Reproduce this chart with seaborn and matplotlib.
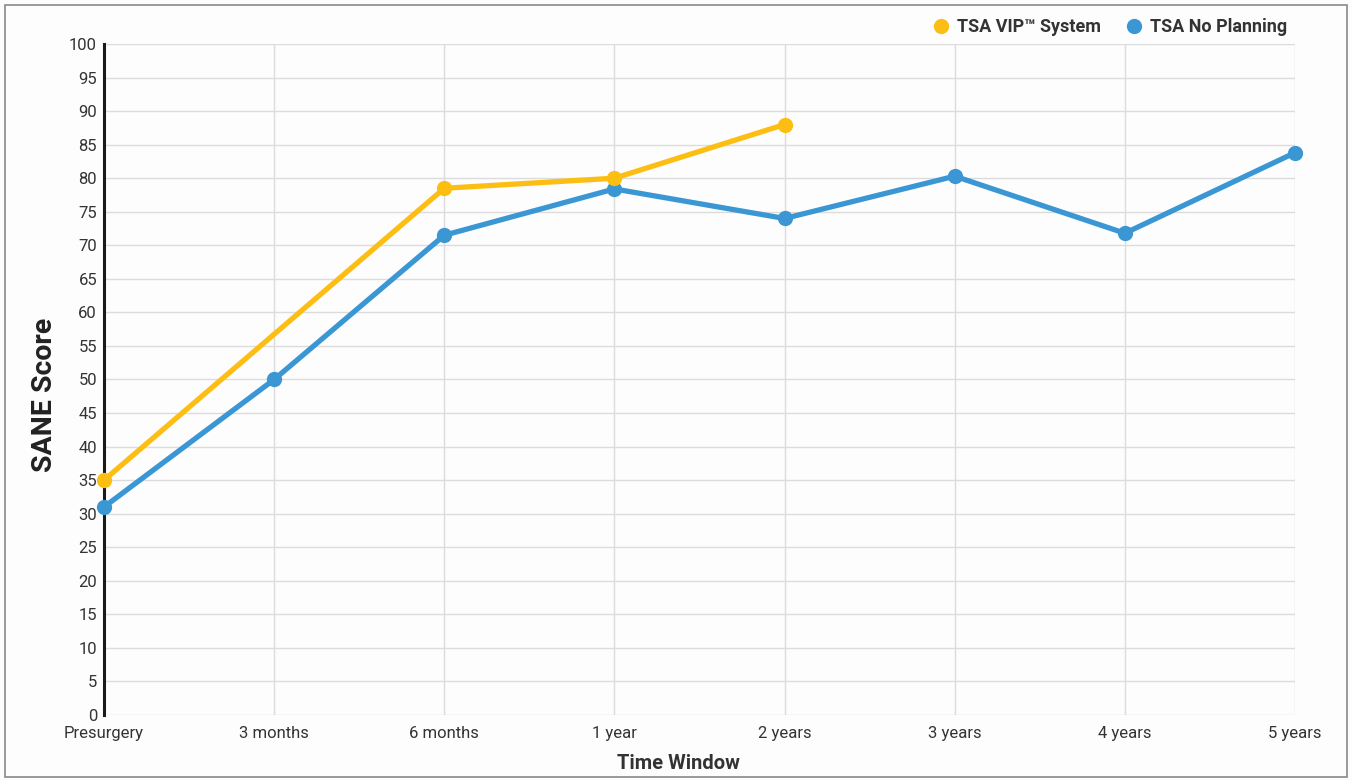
import matplotlib
matplotlib.use("Agg")
import matplotlib.pyplot as plt
import seaborn as sns
import pandas as pd
import numpy as np
from matplotlib.lines import Line2D
from matplotlib.patches import Rectangle

categories = ["Presurgery", "3 months", "6 months", "1 year", "2 years", "3 years", "4 years", "5 years"]
vip_values = [35, np.nan, 78.5, 80, 88, np.nan, np.nan, np.nan]
noplan_values = [31, 50, 71.5, 78.4, 74, 80.3, 71.8, 83.8]
series_names = ["TSA VIP\u2122 System", "TSA No Planning"]
colors = ["#FDBE14", "#3A97D4"]

rows = []
for name, vals in zip(series_names, [vip_values, noplan_values]):
    for i, v in enumerate(vals):
        rows.append({"x": i, "score": v, "series": name})
df = pd.DataFrame(rows).dropna()

sns.set_style("white")
plt.rcParams['font.family'] = ['Roboto', 'DejaVu Sans']

fig = plt.figure(figsize=(13.52, 7.8), dpi=100)
fig.patch.set_facecolor("#fdfdfd")
ax = fig.add_axes([104/1352, 1-715/780, (1295-104)/1352, (715-44)/780])
ax.set_facecolor("#fdfdfd")

sns.lineplot(data=df, x="x", y="score", hue="series", palette=dict(zip(series_names, colors)),
             hue_order=series_names[::-1], marker="o", markersize=11, markeredgewidth=0,
             linewidth=3.8, ax=ax, legend=False, sort=True, zorder=6, clip_on=False)

ax.set_xlim(0, len(categories) - 1)
ax.set_ylim(0, 100)
ax.set_yticks(np.arange(0, 101, 5))
ax.set_xticks(range(len(categories)))
ax.set_xticklabels(categories)
ax.grid(True, color="#dcdcdc", linewidth=1.0, zorder=0)
ax.set_axisbelow(True)
for s in ["top", "right", "bottom"]:
    ax.spines[s].set_visible(False)
ax.spines["left"].set_color("#1a1a1a")
ax.spines["left"].set_linewidth(2.2)
ax.spines["left"].set_zorder(5)
ax.tick_params(axis="both", length=0, labelsize=12, colors="#333333")
ax.tick_params(axis="y", pad=5)
ax.tick_params(axis="x", pad=8)

ax.set_ylabel("SANE Score", fontsize=20.5, fontweight="bold", color="#222222", labelpad=6)
ax.yaxis.set_label_coords(-0.039, 0.477)
ax.set_xlabel("Time Window", fontsize=14.5, fontweight="bold", color="#333333", labelpad=10)
ax.xaxis.set_label_coords(0.482, -0.058)

handles = [Line2D([], [], marker="o", linestyle="none", markersize=11, color=c, markeredgewidth=0)
           for c in colors]
ax.legend(handles, series_names, loc="lower right", bbox_to_anchor=(1.0, 1.0), ncol=2, frameon=False,
          prop={"weight": "bold", "size": 13}, handletextpad=-0.1, columnspacing=0.8,
          borderaxespad=0.25, borderpad=0.2, labelcolor="#333333")

fig.patches.append(Rectangle((5/1352, 3/780), 1 - 10/1352, 1 - 8/780, transform=fig.transFigure,
                             fill=False, edgecolor="#888888", linewidth=1.2))

fig.savefig("out.png", dpi=100, facecolor=fig.get_facecolor())
